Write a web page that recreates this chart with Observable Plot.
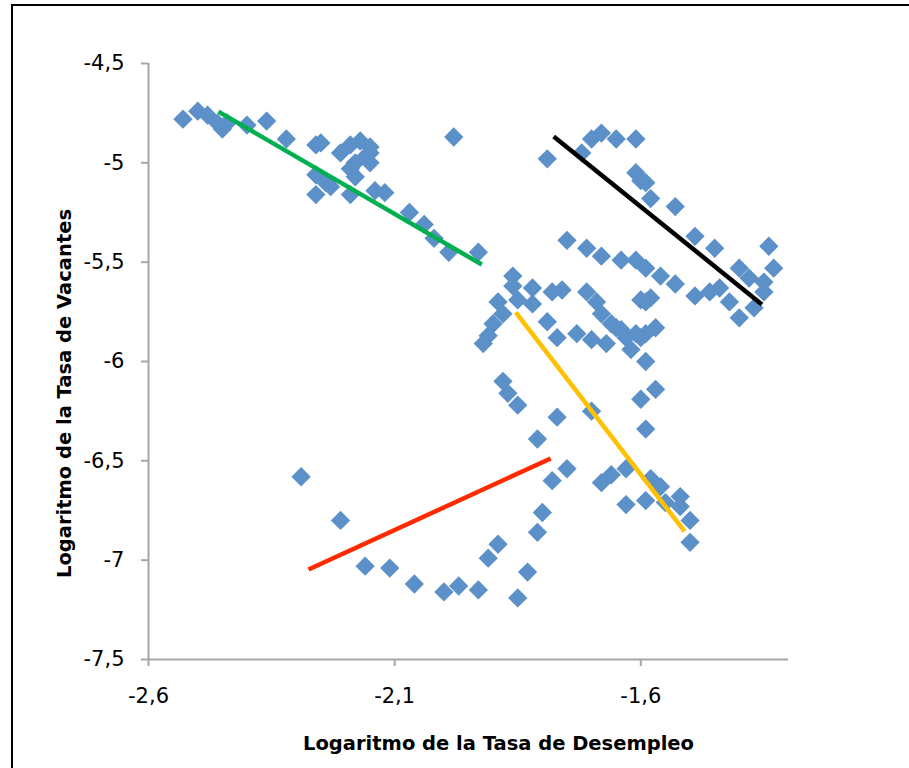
<!DOCTYPE html>
<html>
<head>
<meta charset="utf-8">
<script src="https://cdn.jsdelivr.net/npm/d3@7"></script>
<script src="https://cdn.jsdelivr.net/npm/@observablehq/plot@0.6"></script>
<style>
  html, body { margin: 0; padding: 0; background: #fff; overflow: hidden; width: 909px; height: 768px; }
  #frame { position: absolute; left: 11px; top: 4px; width: 1000px; height: 1000px; border: 2px solid #000; }
  #chart { position: absolute; left: 0; top: 0; }
</style>
</head>
<body>
<div id="frame"></div>
<div id="chart"></div>
<script>
// Logaritmo de la Tasa de Desempleo (x) y Logaritmo de la Tasa de Vacantes (y)
const logDesempleo = [
  -2.53,-2.50,-2.48,-2.46,-2.45,-2.44,-2.40,-2.36,-2.32,-2.26,-2.25,-2.21,-2.19,-2.17,-2.15,-2.15,-2.18,-2.15,-2.19,-2.18,-2.16,-2.26,-2.24,-2.23,-2.26,-2.19,-2.14,-2.12,-2.07,-2.04,-2.02,-1.99,-1.93,-1.98,
  -1.79,-1.72,-1.70,-1.68,-1.65,-1.61,-1.61,-1.60,-1.59,-1.58,-1.53,-1.49,-1.45,-1.40,-1.38,-1.35,-1.33,-1.34,-1.35,-1.37,-1.40,-1.42,-1.44,-1.46,-1.49,-1.53,-1.56,-1.59,-1.61,-1.64,-1.68,-1.71,-1.75,
  -1.86,-1.86,-1.89,-1.88,-1.90,-1.91,-1.92,-1.85,-1.82,-1.82,-1.78,-1.76,-1.71,-1.69,-1.68,-1.79,-1.77,-1.73,-1.70,-1.67,-1.66,-1.64,-1.63,-1.62,-1.60,-1.59,-1.57,-1.59,-1.60,-1.59,-1.58,-1.65,-1.61,
  -1.88,-1.87,-1.85,-1.77,-1.81,-1.75,-1.78,-1.80,-1.81,-1.89,-1.91,-1.70,-1.60,-1.57,-1.59,-1.63,-1.66,-1.68,-1.63,-1.59,-1.58,-1.55,-1.52,-1.52,-1.50,-1.50,-1.56,
  -2.29,-2.21,-2.16,-2.11,-2.06,-2.00,-1.97,-1.93,-1.85,-1.83
];
const logVacantes = [
  -4.78,-4.74,-4.76,-4.80,-4.83,-4.80,-4.81,-4.79,-4.88,-4.91,-4.90,-4.95,-4.91,-4.89,-4.92,-4.95,-5.00,-5.00,-5.03,-5.07,-4.97,-5.06,-5.10,-5.12,-5.16,-5.16,-5.14,-5.15,-5.25,-5.31,-5.38,-5.45,-5.45,-4.87,
  -4.98,-4.95,-4.88,-4.85,-4.88,-4.88,-5.05,-5.09,-5.10,-5.18,-5.22,-5.37,-5.43,-5.53,-5.58,-5.60,-5.53,-5.42,-5.65,-5.73,-5.78,-5.70,-5.63,-5.65,-5.67,-5.61,-5.57,-5.53,-5.49,-5.49,-5.47,-5.43,-5.39,
  -5.57,-5.62,-5.70,-5.76,-5.81,-5.87,-5.91,-5.69,-5.63,-5.71,-5.65,-5.64,-5.65,-5.70,-5.76,-5.80,-5.88,-5.86,-5.89,-5.91,-5.81,-5.84,-5.88,-5.94,-5.88,-5.86,-5.83,-6.00,-5.69,-5.70,-5.68,-5.83,-5.86,
  -6.10,-6.16,-6.22,-6.28,-6.39,-6.54,-6.60,-6.76,-6.86,-6.92,-6.99,-6.25,-6.19,-6.14,-6.34,-6.54,-6.57,-6.61,-6.72,-6.70,-6.59,-6.71,-6.68,-6.73,-6.80,-6.91,-6.63,
  -6.58,-6.80,-7.03,-7.04,-7.12,-7.16,-7.13,-7.15,-7.19,-7.06
];

// Rectas de tendencia (extremos)
const trendNames = ["verde", "negra", "amarilla", "roja"];
const trendX1 = [-2.458, -1.777, -1.854, -2.275];
const trendY1 = [-4.742, -4.867, -5.753, -7.047];
const trendX2 = [-1.923, -1.354, -1.511, -1.783];
const trendY2 = [-5.512, -5.713, -6.855, -6.488];

// Ejes
const xDomain = [-2.6, -1.3];
const yDomain = [-7.5, -4.5];
const xTicks = [-2.6, -2.1, -1.6];
const yTicks = [-4.5, -5, -5.5, -6, -6.5, -7, -7.5];
const xTitle = "Logaritmo de la Tasa de Desempleo";
const yTitle = "Logaritmo de la Tasa de Vacantes";

const trendColor = {verde: "#00b050", negra: "#000000", amarilla: "#ffc000", roja: "#ff2a00"};

const points = logDesempleo.map((u, i) => ({u, v: logVacantes[i]}));
const trends = trendNames.map((name, i) => ({name, x1: trendX1[i], y1: trendY1[i], x2: trendX2[i], y2: trendY2[i]}));
const fmt = d => String(d).replace(".", ",");
const axisGray = "#a6a6a6";

const chart = Plot.plot({
  width: 909,
  height: 768,
  marginLeft: 148,
  marginRight: 121,
  marginTop: 63,
  marginBottom: 109,
  style: {fontFamily: "DejaVu Sans, sans-serif", fontSize: "21px", color: "#000", background: "transparent"},
  x: {domain: xDomain},
  y: {domain: yDomain},
  marks: [
    Plot.axisX({ticks: xTicks, tickFormat: fmt, tickSize: 7, tickPadding: 22, stroke: axisGray, strokeWidth: 2, fill: "#000", fontSize: 21, label: null}),
    Plot.axisY({ticks: yTicks, tickFormat: fmt, tickSize: 7, tickPadding: 17, stroke: axisGray, strokeWidth: 2, fill: "#000", fontSize: 21, label: null}),
    Plot.ruleX([xDomain[0]], {stroke: axisGray, strokeWidth: 2}),
    Plot.ruleY([yDomain[0]], {stroke: axisGray, strokeWidth: 2}),
    Plot.dot(points, {x: "u", y: "v", symbol: "diamond2", r: 8.7, fill: "#5b90c8", stroke: "none"}),
    Plot.link(trends, {x1: "x1", y1: "y1", x2: "x2", y2: "y2", stroke: d => trendColor[d.name], strokeWidth: 4.5}),
    Plot.text([xTitle], {frameAnchor: "bottom", textAnchor: "middle", lineAnchor: "middle", dx: 30, dy: 84, fontWeight: "bold", fontSize: 19.5, fill: "#000"}),
    Plot.text([yTitle], {frameAnchor: "left", textAnchor: "middle", lineAnchor: "middle", rotate: -90, dx: -84, dy: 32, fontWeight: "bold", fontSize: 19.5, fill: "#000"})
  ]
});
document.getElementById("chart").appendChild(chart);
</script>
</body>
</html>
